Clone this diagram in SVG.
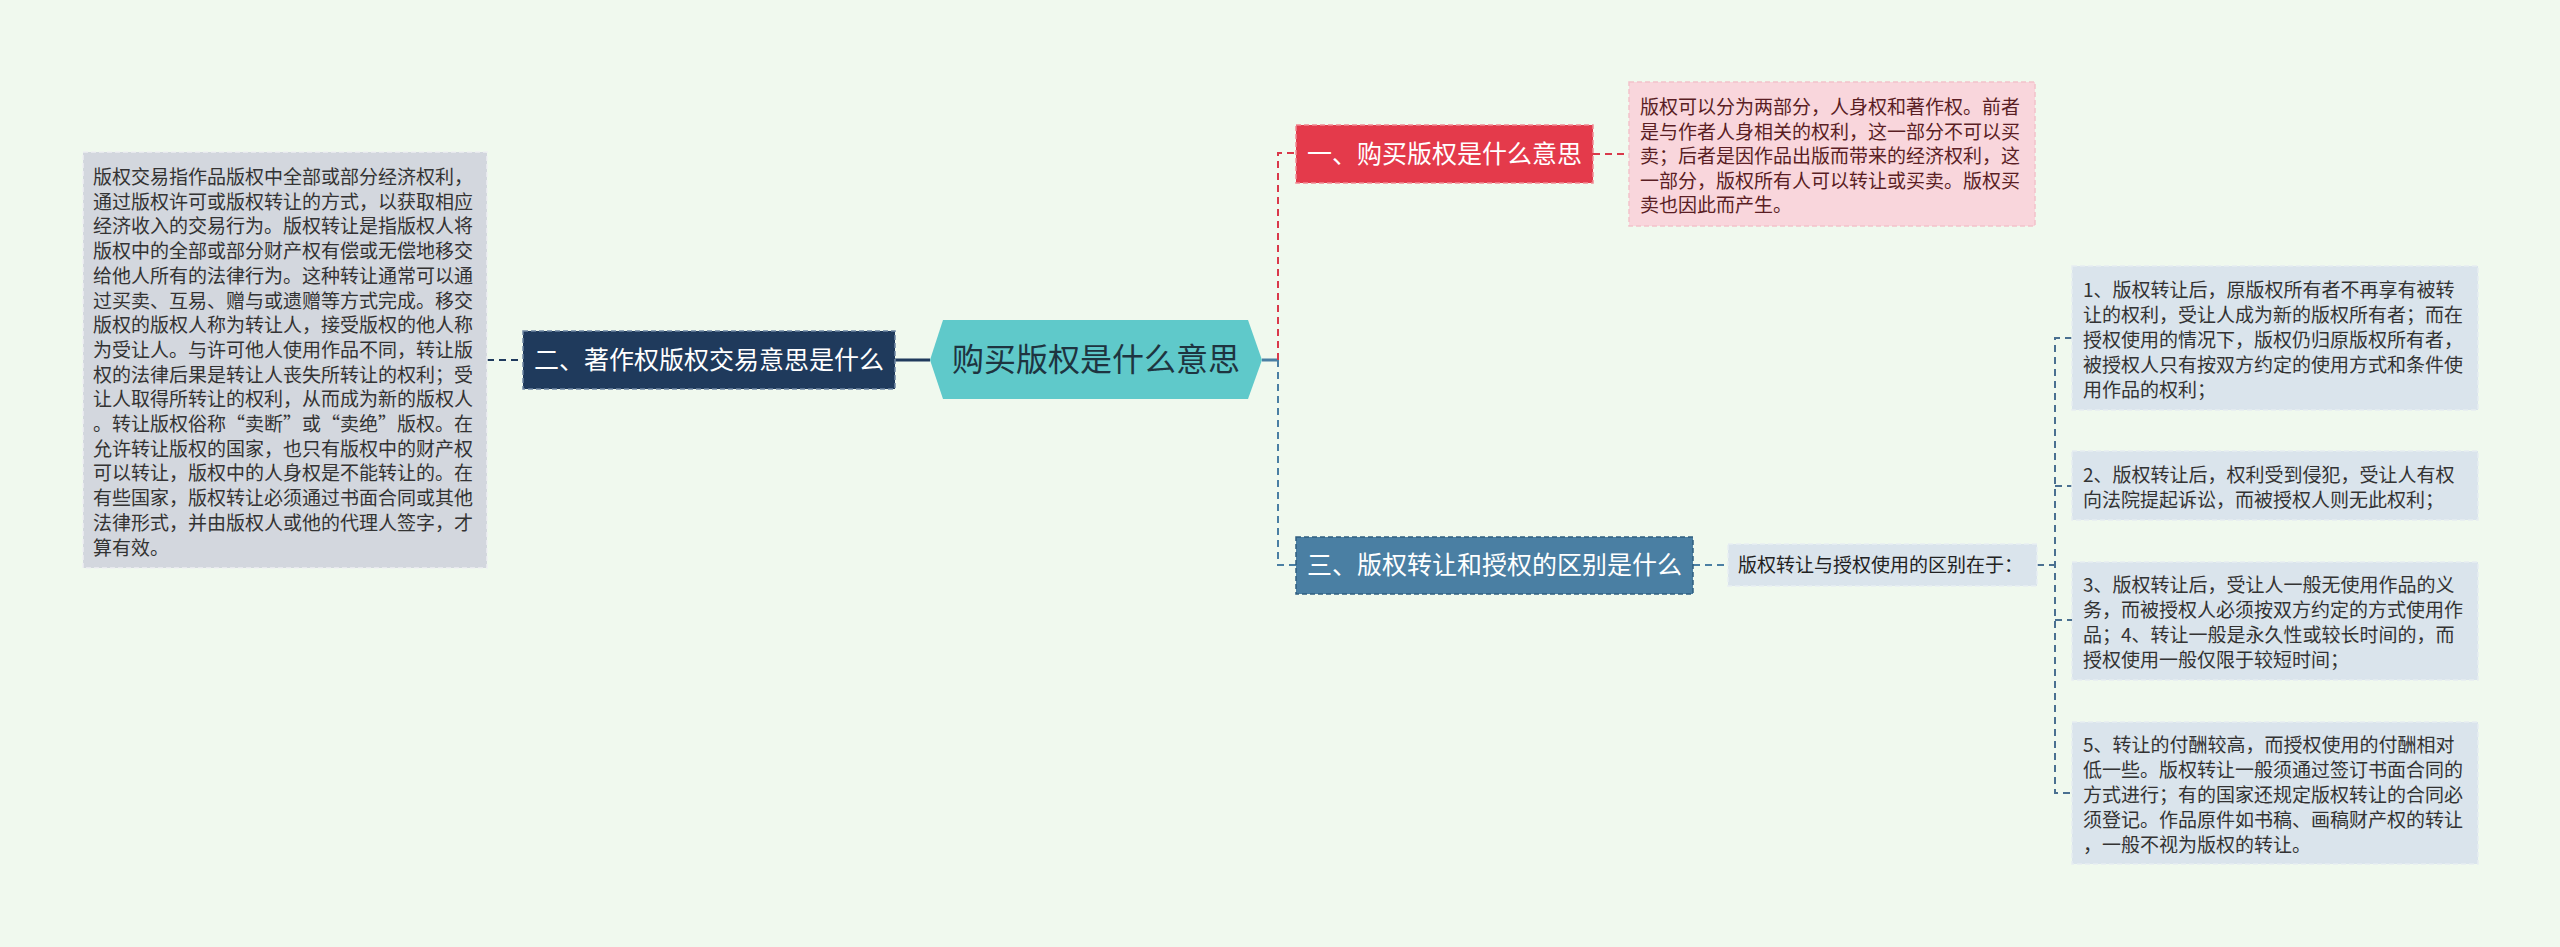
<svg xmlns="http://www.w3.org/2000/svg" width="2560" height="947" viewBox="0 0 2560 947">
<style>
text{font-family:"Noto Sans CJK SC","Noto Sans",sans-serif;}
.body{font-size:19px;fill:#333333;}
.pinkt{font-size:19px;fill:#5a1e24;}
.main{font-size:25px;fill:#ffffff;}
.sub{font-size:19px;fill:#222222;}
.box{stroke-width:1.5;stroke-dasharray:5 3;}
.conn{fill:none;stroke-width:2;}
</style>
<rect width="2560" height="947" fill="#f0f9ee"/>
<g id="connectors">
  <line x1="895" y1="360" x2="930" y2="360" stroke="#1f3a5c" stroke-width="3"/>
  <line x1="487" y1="360" x2="523" y2="360" class="conn" stroke="#1f3a5c" stroke-dasharray="7 5"/>
  <line x1="1262" y1="360" x2="1278" y2="360" stroke="#4a7fa3" stroke-width="3"/>
  <path d="M1278 360 V153 H1296" class="conn" stroke="#d9394a" stroke-dasharray="7 5"/>
  <path d="M1278 360 V565 H1296" class="conn" stroke="#4a7fa3" stroke-dasharray="7 5"/>
  <line x1="1593" y1="154" x2="1629" y2="154" class="conn" stroke="#d9394a" stroke-dasharray="7 5"/>
  <line x1="1693" y1="565" x2="1728" y2="565" class="conn" stroke="#4a7fa3" stroke-dasharray="7 5"/>
  <line x1="2037" y1="565" x2="2055" y2="565" class="conn" stroke="#4a7090" stroke-dasharray="7 5"/>
  <path d="M2072 338 H2055 V793 H2072" class="conn" stroke="#4a7090" stroke-dasharray="7 5"/>
  <line x1="2055" y1="486" x2="2072" y2="486" class="conn" stroke="#4a7090" stroke-dasharray="7 5"/>
  <line x1="2055" y1="620" x2="2072" y2="620" class="conn" stroke="#4a7090" stroke-dasharray="7 5"/>
</g>
<g id="center">
  <polygon points="930,360 943,320 1248,320 1262,360 1248,399 943,399" fill="#5fc9ca"/>
  <text x="1096" y="371" text-anchor="middle" font-size="32" fill="#1e3440">购买版权是什么意思</text>
</g>
<g id="n2">
  <rect x="523" y="331" width="372" height="58" fill="#1f3a5c" stroke="#6f86a3" class="box"/>
  <text x="709" y="369" text-anchor="middle" class="main">二、著作权版权交易意思是什么</text>
</g>
<g id="n2text">
  <rect x="83" y="152" width="404" height="416" fill="#d3d7de" stroke="#eef0f2" class="box"/>
  <text class="body">
    <tspan x="93" y="184">版权交易指作品版权中全部或部分经济权利，</tspan>
    <tspan x="93" y="208.7">通过版权许可或版权转让的方式，以获取相应</tspan>
    <tspan x="93" y="233.4">经济收入的交易行为。版权转让是指版权人将</tspan>
    <tspan x="93" y="258.1">版权中的全部或部分财产权有偿或无偿地移交</tspan>
    <tspan x="93" y="282.8">给他人所有的法律行为。这种转让通常可以通</tspan>
    <tspan x="93" y="307.5">过买卖、互易、赠与或遗赠等方式完成。移交</tspan>
    <tspan x="93" y="332.2">版权的版权人称为转让人，接受版权的他人称</tspan>
    <tspan x="93" y="356.9">为受让人。与许可他人使用作品不同，转让版</tspan>
    <tspan x="93" y="381.6">权的法律后果是转让人丧失所转让的权利；受</tspan>
    <tspan x="93" y="406.3">让人取得所转让的权利，从而成为新的版权人</tspan>
    <tspan x="93" y="431">。转让版权俗称“卖断”或“卖绝”版权。在</tspan>
    <tspan x="93" y="455.7">允许转让版权的国家，也只有版权中的财产权</tspan>
    <tspan x="93" y="480.4">可以转让，版权中的人身权是不能转让的。在</tspan>
    <tspan x="93" y="505.1">有些国家，版权转让必须通过书面合同或其他</tspan>
    <tspan x="93" y="529.8">法律形式，并由版权人或他的代理人签字，才</tspan>
    <tspan x="93" y="554.5">算有效。</tspan>
  </text>
</g>
<g id="n1">
  <rect x="1296" y="125" width="297" height="58" fill="#e43a4b" stroke="#f08a94" class="box"/>
  <text x="1444.5" y="163" text-anchor="middle" class="main">一、购买版权是什么意思</text>
</g>
<g id="n1text">
  <rect x="1629" y="82" width="406" height="144" fill="#f9d6dc" stroke="#f2c2ca" class="box"/>
  <text class="pinkt">
    <tspan x="1640" y="114">版权可以分为两部分，人身权和著作权。前者</tspan>
    <tspan x="1640" y="138.6">是与作者人身相关的权利，这一部分不可以买</tspan>
    <tspan x="1640" y="163.2">卖；后者是因作品出版而带来的经济权利，这</tspan>
    <tspan x="1640" y="187.8">一部分，版权所有人可以转让或买卖。版权买</tspan>
    <tspan x="1640" y="212.4">卖也因此而产生。</tspan>
  </text>
</g>
<g id="n3">
  <rect x="1296" y="537" width="397" height="57" fill="#4a7fa3" stroke="#2f5f80" class="box"/>
  <text x="1494.5" y="574" text-anchor="middle" class="main">三、版权转让和授权的区别是什么</text>
</g>
<g id="n3a">
  <rect x="1728" y="544" width="309" height="42" fill="#dae4ec" stroke="#e8eef2" class="box"/>
  <text x="1738" y="572" class="sub">版权转让与授权使用的区别在于：</text>
</g>
<g id="r1">
  <rect x="2072" y="266" width="406" height="144" fill="#dae4ec" stroke="#e6edf1" class="box"/>
  <text class="body">
    <tspan x="2083" y="297">1、版权转让后，原版权所有者不再享有被转</tspan>
    <tspan x="2083" y="322">让的权利，受让人成为新的版权所有者；而在</tspan>
    <tspan x="2083" y="347">授权使用的情况下，版权仍归原版权所有者，</tspan>
    <tspan x="2083" y="372">被授权人只有按双方约定的使用方式和条件使</tspan>
    <tspan x="2083" y="397">用作品的权利；</tspan>
  </text>
</g>
<g id="r2">
  <rect x="2072" y="451" width="406" height="69" fill="#dae4ec" stroke="#e6edf1" class="box"/>
  <text class="body">
    <tspan x="2083" y="482">2、版权转让后，权利受到侵犯，受让人有权</tspan>
    <tspan x="2083" y="507">向法院提起诉讼，而被授权人则无此权利；</tspan>
  </text>
</g>
<g id="r3">
  <rect x="2072" y="562" width="406" height="118" fill="#dae4ec" stroke="#e6edf1" class="box"/>
  <text class="body">
    <tspan x="2083" y="592">3、版权转让后，受让人一般无使用作品的义</tspan>
    <tspan x="2083" y="617">务，而被授权人必须按双方约定的方式使用作</tspan>
    <tspan x="2083" y="642">品；4、转让一般是永久性或较长时间的，而</tspan>
    <tspan x="2083" y="667">授权使用一般仅限于较短时间；</tspan>
  </text>
</g>
<g id="r5">
  <rect x="2072" y="722" width="406" height="142" fill="#dae4ec" stroke="#e6edf1" class="box"/>
  <text class="body">
    <tspan x="2083" y="752">5、转让的付酬较高，而授权使用的付酬相对</tspan>
    <tspan x="2083" y="777">低一些。版权转让一般须通过签订书面合同的</tspan>
    <tspan x="2083" y="802">方式进行；有的国家还规定版权转让的合同必</tspan>
    <tspan x="2083" y="827">须登记。作品原件如书稿、画稿财产权的转让</tspan>
    <tspan x="2083" y="852">，一般不视为版权的转让。</tspan>
  </text>
</g>
</svg>
